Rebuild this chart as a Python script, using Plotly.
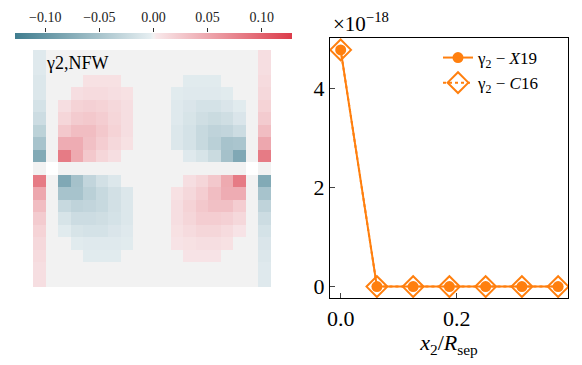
import plotly.graph_objects as go

# heatmap of gamma_2 (NFW), 19x19 cells, row 0 at the top
gamma_nfw = [
    [-0.008, 0, 0, 0, 0, 0, 0, 0, 0, 0, 0, 0, 0, 0, 0, 0, 0, 0, 0.010],
    [-0.008, 0, 0, 0, 0, 0, 0, 0, 0, 0, 0, 0, 0, 0, 0, 0, 0, 0, 0.010],
    [-0.010, 0, 0, 0, 0.008, 0.008, 0.008, 0, 0, 0, 0, 0, -0.006, -0.006, -0.006, 0, 0, 0, 0.012],
    [-0.010, 0, 0, 0.010, 0.012, 0.012, 0.010, 0.008, 0, 0, 0, -0.006, -0.008, -0.008, -0.008, -0.006, 0, 0, 0.014],
    [-0.016, 0, 0.010, 0.018, 0.020, 0.018, 0.014, 0.010, 0, 0, 0, -0.008, -0.012, -0.016, -0.016, -0.012, -0.006, 0, 0.018],
    [-0.022, 0, 0.016, 0.024, 0.026, 0.022, 0.016, 0.010, 0, 0, 0, -0.008, -0.014, -0.020, -0.024, -0.020, -0.012, 0, 0.024],
    [-0.034, 0, 0.026, 0.034, 0.034, 0.026, 0.018, 0.010, 0, 0, 0, -0.010, -0.016, -0.026, -0.032, -0.030, -0.022, 0, 0.034],
    [-0.050, 0, 0.046, 0.046, 0.032, 0.022, 0.014, 0.008, 0, 0, 0, -0.010, -0.016, -0.026, -0.036, -0.050, -0.048, 0, 0.050],
    [-0.078, 0, 0.082, 0.048, 0.026, 0.016, 0.010, 0, 0, 0, 0, 0, -0.008, -0.014, -0.024, -0.052, -0.080, 0, 0.082],
    [0, None, 0, 0, 0, 0, 0, 0, 0, 0, 0, 0, 0, 0, 0, 0, 0, None, 0],
    [0.082, 0, -0.080, -0.052, -0.030, -0.018, -0.010, 0, 0, 0, 0, 0, 0.010, 0.016, 0.026, 0.048, 0.082, 0, -0.078],
    [0.050, 0, -0.050, -0.050, -0.036, -0.026, -0.018, -0.010, 0, 0, 0, 0.008, 0.014, 0.022, 0.034, 0.046, 0.046, 0, -0.050],
    [0.034, 0, -0.026, -0.032, -0.030, -0.026, -0.018, -0.010, 0, 0, 0, 0.010, 0.018, 0.026, 0.032, 0.032, 0.022, 0, -0.032],
    [0.024, 0, -0.014, -0.022, -0.022, -0.020, -0.016, -0.010, 0, 0, 0, 0.010, 0.016, 0.022, 0.022, 0.020, 0.014, 0, -0.022],
    [0.018, 0, -0.006, -0.014, -0.016, -0.016, -0.012, -0.008, 0, 0, 0, 0.008, 0.012, 0.016, 0.016, 0.012, 0.006, 0, -0.016],
    [0.014, 0, 0, -0.006, -0.008, -0.008, -0.008, -0.006, 0, 0, 0, 0.006, 0.008, 0.010, 0.010, 0.008, 0, 0, -0.012],
    [0.012, 0, 0, 0, -0.006, -0.006, -0.006, 0, 0, 0, 0, 0, 0.006, 0.006, 0.006, 0, 0, 0, -0.010],
    [0.010, 0, 0, 0, 0, 0, 0, 0, 0, 0, 0, 0, 0, 0, 0, 0, 0, 0, -0.008],
    [0.010, 0, 0, 0, 0, 0, 0, 0, 0, 0, 0, 0, 0, 0, 0, 0, 0, 0, -0.008],
]
cbar_ticks = [-0.10, -0.05, 0.00, 0.05, 0.10]
cbar_labels = ["−0.10", "−0.05", "0.00", "0.05", "0.10"]

# line plot
x2_over_rsep = [0.0, 0.0625, 0.125, 0.1875, 0.25, 0.3125, 0.375]
gamma_x19 = [4.78e-18, 0, 0, 0, 0, 0, 0]
gamma_c16 = [4.78e-18, 0, 0, 0, 0, 0, 0]
y_ticks = [0, 2e-18, 4e-18]
y_labels = ["0", "2", "4"]

FONT = "Liberation Serif"
ORANGE = "#ff7f0e"
W, H = 582, 365
ZLIM = 0.128

cscale = [
    [0.0, "rgb(64,125,143)"],
    [0.49, "rgb(230,238,241)"],
    [0.5, "rgb(242,242,242)"],
    [0.51, "rgb(248,232,234)"],
    [1.0, "rgb(220,60,75)"],
]

fig = go.Figure()

fig.add_trace(go.Heatmap(
    z=gamma_nfw, colorscale=cscale, zmin=-ZLIM, zmax=ZLIM,
    xaxis="x", yaxis="y", hoverongaps=False,
    colorbar=dict(
        orientation="h", x=153.5 / W, xanchor="center", len=277 / W, lenmode="fraction",
        y=1 - 39 / H, yanchor="bottom", thickness=6, outlinewidth=0, xpad=0, ypad=0,
        ticks="", showticklabels=False,
    ),
))

# empty trace so the colorbar tick axis gets drawn
fig.add_trace(go.Scatter(x=[None], y=[None], xaxis="x3", yaxis="y3",
                         showlegend=False, hoverinfo="skip"))

fig.add_trace(go.Scatter(
    x=x2_over_rsep, y=gamma_x19, mode="lines+markers", xaxis="x2", yaxis="y2",
    name="γ<sub>2</sub> − <i>X</i>19",
    line=dict(color=ORANGE, width=2),
    marker=dict(symbol="circle", size=11, color=ORANGE),
))
fig.add_trace(go.Scatter(
    x=x2_over_rsep, y=gamma_c16, mode="lines+markers", xaxis="x2", yaxis="y2",
    name="γ<sub>2</sub> − <i>C</i>16",
    line=dict(color=ORANGE, width=2, dash="dot"),
    marker=dict(symbol="diamond-open", size=16, color=ORANGE, line=dict(width=2, color=ORANGE)),
))

fig.update_layout(
    width=W, height=H,
    margin=dict(l=0, r=0, t=0, b=0, autoexpand=False),
    paper_bgcolor="white", plot_bgcolor="white",
    font=dict(family=FONT, color="black"),
    xaxis=dict(domain=[33 / W, 271 / W], visible=False, range=[-0.5, 18.5]),
    yaxis=dict(domain=[1 - 287 / H, 1 - 50 / H], visible=False, range=[18.5, -0.5]),
    # axis carrying the colorbar ticks and labels above the bar
    xaxis3=dict(
        domain=[15 / W, 292 / W], anchor="y3", side="top", range=[-ZLIM, ZLIM],
        tickvals=cbar_ticks, ticktext=cbar_labels, ticks="outside", ticklen=4,
        tickcolor="#333", showline=False, showgrid=False, zeroline=False,
        tickfont=dict(size=14, color="#222"),
    ),
    yaxis3=dict(domain=[1 - 36 / H, 1 - 33 / H], anchor="x3", visible=False, range=[0, 1]),
    xaxis2=dict(
        domain=[330 / W, 568 / W], anchor="y2", range=[-0.0184, 0.392],
        tickvals=[0, 0.2], ticktext=["0.0", "0.2"], ticks="inside", ticklen=5,
        showline=True, linecolor="black", linewidth=1.2, mirror=True, showgrid=False, zeroline=False,
        tickfont=dict(size=22),
        title=dict(text="<i>x</i><sub>2</sub>/<i>R</i><sub>sep</sub>", font=dict(size=22), standoff=0),
    ),
    yaxis2=dict(
        domain=[1 - 298 / H, 1 - 38 / H], anchor="x2", range=[-0.23e-18, 5.02e-18],
        tickvals=y_ticks, ticktext=y_labels, ticks="inside", ticklen=5,
        showline=True, linecolor="black", linewidth=1.2, mirror=True, showgrid=False, zeroline=False,
        tickfont=dict(size=22),
    ),
    legend=dict(
        x=438 / W, xanchor="left", y=1 - 40 / H, yanchor="top",
        bgcolor="rgba(255,255,255,0)", font=dict(size=17), tracegroupgap=0,
    ),
    annotations=[
        dict(text="γ2,NFW", x=44 / W, y=1 - 63 / H, xref="paper", yref="paper",
             xanchor="left", yanchor="middle", showarrow=False, font=dict(size=18)),
        dict(text="×10<sup>−18</sup>", x=331 / W, y=1 - 38 / H, xref="paper", yref="paper",
             xanchor="left", yanchor="bottom", showarrow=False, font=dict(size=21)),
    ],
)

# remove the browser's default body margin so the figure sits at the page origin
fig.write_html("out.html", config={"displayModeBar": False},
               post_script="document.body.style.margin='0px';")
